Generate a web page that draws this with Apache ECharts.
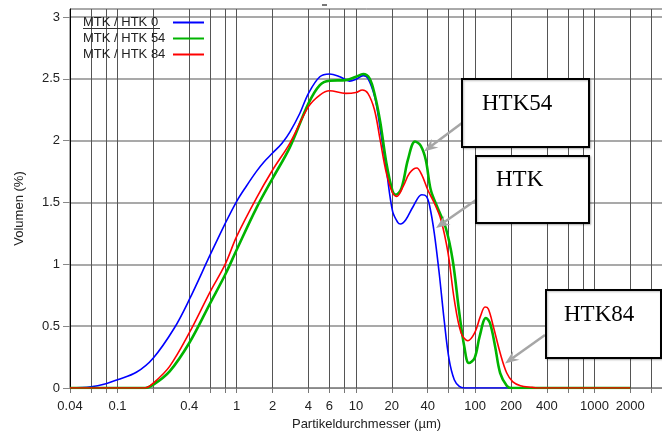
<!DOCTYPE html>
<html><head><meta charset="utf-8">
<script src="https://cdn.jsdelivr.net/npm/echarts@6/dist/echarts.min.js"></script>
<style>html,body{margin:0;padding:0;background:#fff}#c{width:662px;height:433px}</style>
</head><body><div id="c"></div>
<script>
// ---- data (x in µm, y in Volumen %) ----
const seriesNames = ['MTK / HTK 0', 'MTK / HTK 54', 'MTK / HTK 84'];
const htk0 = [[0.04,0],[0.06,0.01],[0.08,0.035],[0.1,0.067],[0.144,0.127],[0.2,0.243],[0.3,0.485],[0.4,0.714],[0.6,1.078],[0.8,1.33],[1.0,1.51],[1.2,1.63],[1.46,1.75],[1.7,1.83],[2,1.9],[2.4,1.98],[2.79,2.07],[3.38,2.22],[4,2.383],[4.98,2.517],[6,2.539],[7.33,2.517],[8.87,2.482],[10,2.496],[11.5,2.526],[12.6,2.504],[14.4,2.35],[16,2.09],[18,1.765],[20.3,1.428],[22.4,1.34],[23.6,1.326],[26.2,1.361],[30.2,1.468],[35.6,1.563],[39,1.55],[41.6,1.468],[45.4,1.253],[49.9,0.93],[54.9,0.552],[60.5,0.229],[66.8,0.067],[73.6,0.013],[81,0],[2000,0]];
const htk54 = [[0.04,0],[0.17,0],[0.2,0.027],[0.274,0.135],[0.4,0.364],[0.6,0.687],[0.8,0.916],[1.0,1.118],[1.46,1.453],[2,1.695],[2.79,1.946],[4,2.302],[4.98,2.45],[6,2.485],[8.2,2.49],[10,2.517],[11.5,2.539],[13,2.504],[14.4,2.37],[16,2.15],[18,1.82],[20.3,1.59],[21.6,1.563],[24.1,1.617],[27.3,1.846],[31.3,1.994],[34.9,1.96],[38.5,1.846],[42.4,1.603],[47.9,1.468],[56.7,1.294],[64.7,1.037],[73.6,0.607],[81,0.336],[88.5,0.202],[99,0.243],[109,0.417],[123,0.566],[133,0.526],[147,0.336],[162,0.121],[184,0.019],[200,0],[2000,0]];
const htk84 = [[0.04,0],[0.17,0],[0.2,0.04],[0.274,0.175],[0.4,0.445],[0.6,0.78],[0.8,1.0],[1.0,1.226],[1.46,1.534],[2,1.763],[2.79,1.979],[4,2.275],[4.98,2.369],[6,2.404],[8.2,2.383],[10,2.39],[11.3,2.41],[12.6,2.383],[14.3,2.25],[16,2.0],[18,1.738],[20.3,1.577],[22,1.55],[24.9,1.63],[28.2,1.738],[32.4,1.779],[35.6,1.725],[40,1.603],[45.4,1.496],[51.6,1.361],[59.2,1.092],[66.8,0.714],[76.2,0.445],[86.7,0.382],[99,0.445],[110.6,0.579],[121,0.655],[129,0.639],[142,0.498],[162,0.283],[184,0.121],[207,0.05],[240,0.019],[300,0.005],[330,0],[2000,0]];
const xTickValues = [0.04,0.06,0.08,0.1,0.2,0.4,0.6,0.8,1,2,4,6,8,10,20,40,60,80,100,200,400,600,800,1000,2000,3000];
const xLabelValues = [0.04,0.1,0.4,1,2,4,6,10,20,40,100,200,400,1000,2000];
const yTickValues = [0,0.5,1,1.5,2,2.5,3];
const annotationTexts = ['HTK54', 'HTK', 'HTK84'];

// ---- layout / style of annotations (pixels) ----
const annLayout = [
  {box:[462,79,127,68], text:[482,104], from:[462,123], to:[424,151.5]},
  {box:[476,156,113,67], text:[496,180], from:[476,200], to:[436,228]},
  {box:[546,290,115,68], text:[564,315], from:[545,335], to:[505,363.5]}
];

const chart = echarts.init(document.getElementById('c'), null, {renderer:'canvas'});
const font = 'Liberation Sans, Arial, sans-serif';

function arrowGraphics(a) {
  const [x1,y1] = a.from, [x2,y2] = a.to;
  const dx = x2-x1, dy = y2-y1, len = Math.hypot(dx,dy);
  const ux = dx/len, uy = dy/len, nx = -uy, ny = ux;
  const L = 14, W = 5.5, N = 9;
  const col = '#a6a6a6';
  return [
    {type:'line', z:100, shape:{x1:x1,y1:y1,x2:x2-ux*N,y2:y2-uy*N}, style:{stroke:col,lineWidth:2.5}},
    {type:'polygon', z:100, shape:{points:[[x2,y2],[x2-ux*L+nx*W,y2-uy*L+ny*W],[x2-ux*N,y2-uy*N],[x2-ux*L-nx*W,y2-uy*L-ny*W]]}, style:{fill:col}}
  ];
}
const graphics = [];
annLayout.forEach((a,i) => {
  graphics.push(...arrowGraphics(a));
  graphics.push({type:'rect', z:101, shape:{x:a.box[0],y:a.box[1],width:a.box[2],height:a.box[3]},
    style:{fill:'#fff', stroke:'#000', lineWidth:2, shadowColor:'rgba(0,0,0,0.25)', shadowBlur:2, shadowOffsetX:1, shadowOffsetY:1}});
  graphics.push({type:'text', z:102, x:a.text[0], y:a.text[1],
    style:{text:annotationTexts[i], fill:'#000', font:'23px "Liberation Serif", "Times New Roman", serif', verticalAlign:'middle', align:'left'}});
});
graphics.push({type:'line', z:100, shape:{x1:83,y1:28.5,x2:160,y2:28.5}, style:{stroke:'#333',lineWidth:1}});
graphics.push({type:'rect', z:100, shape:{x:322,y:4,width:5,height:2}, style:{fill:'#777'}});

const colors = ['#0000ff', '#00b400', '#ff0000'];
const widths = [1.6, 2.6, 1.6];
const dataSets = [htk0, htk54, htk84];

chart.setOption({
  animation:false,
  backgroundColor:'#fff',
  textStyle:{fontFamily:font},
  grid:{left:70, right:-1, top:9, bottom:45, show:true, borderColor:'#555', borderWidth:1,
    containLabel:false, outerBoundsMode:'none'},
  legend:{
    data:seriesNames, orient:'vertical', left:83, top:16, padding:0, itemGap:3,
    align:'right', icon:'rect', itemWidth:31, itemHeight:2, selectedMode:false,
    formatter: n => '{a|' + n + '}',
    textStyle:{rich:{a:{width:85, align:'left', fontSize:13, lineHeight:13, color:'#222', fontFamily:font}}}
  },
  xAxis:{
    type:'log', logBase:10, min:0.04, max:3760,
    name:'Partikeldurchmesser (µm)', nameLocation:'middle', nameGap:24,
    nameTextStyle:{fontSize:13, color:'#222', fontFamily:font},
    axisLine:{show:true, lineStyle:{color:'#888', width:1}},
    axisTick:{show:true, inside:false, length:5, lineStyle:{color:'#777'}, customValues:xTickValues},
    axisLabel:{fontSize:13, color:'#222', margin:12, customValues:xLabelValues, fontFamily:font,
      formatter: v => String(+v.toPrecision(6))},
    splitLine:{show:true, lineStyle:{color:'#555', width:1}},
    minorTick:{show:false}, minorSplitLine:{show:false}
  },
  yAxis:{
    type:'value', min:0, max:3.065, interval:0.5,
    name:'Volumen (%)', nameLocation:'middle', nameGap:44, nameRotate:90,
    nameTextStyle:{fontSize:13, color:'#222', fontFamily:font, padding:[0,20,0,0]},
    axisLine:{show:true, lineStyle:{color:'#000', width:1}},
    axisTick:{show:true, length:7, lineStyle:{color:'#888'}, customValues:yTickValues},
    axisLabel:{fontSize:13, color:'#222', margin:10, customValues:yTickValues, fontFamily:font},
    splitLine:{show:true, lineStyle:{color:'#8c8c8c', width:1.5}}
  },
  series: dataSets.map((d,i) => ({
    name:seriesNames[i], type:'line', data:d, symbol:'none', smooth:0.35,
    lineStyle:{color:colors[i], width:widths[i]}, itemStyle:{color:colors[i]}, z:3+i
  })),
  graphic:graphics
});
</script></body></html>
